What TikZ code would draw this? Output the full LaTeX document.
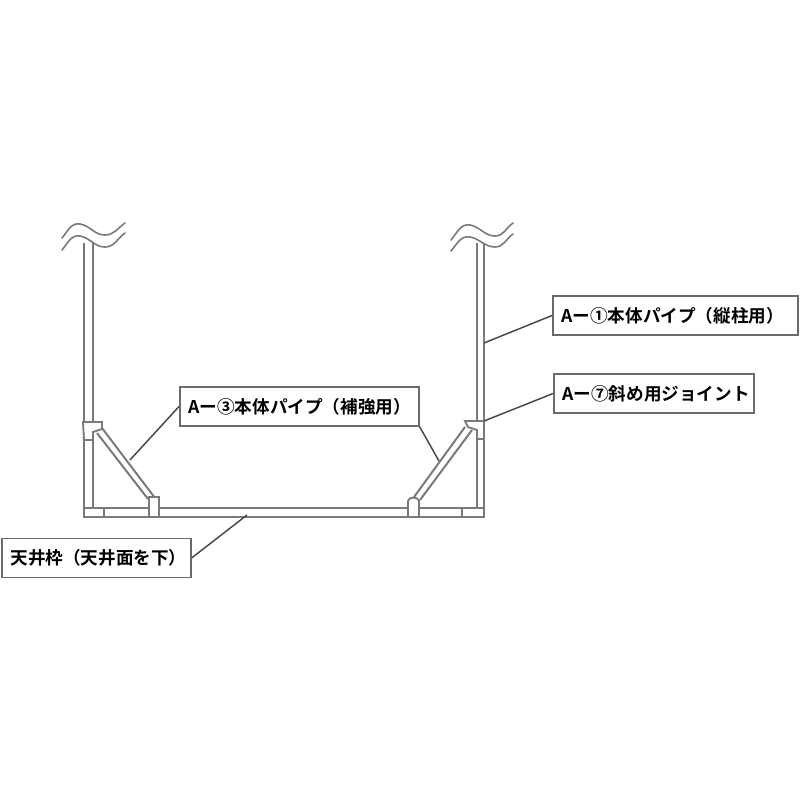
\documentclass[tikz,border=0pt]{standalone}
\usepackage{fontspec}
\setmainfont{Noto Sans CJK JP}[BoldFont={Noto Sans CJK JP Bold}]
\usepackage{tikz}
\definecolor{pipegray}{gray}{0.48}
\definecolor{boxgray}{gray}{0.42}
\definecolor{leadgray}{gray}{0.28}
\tikzset{
	pipe/.style={draw=pipegray,line width=1.5pt},
	joint/.style={draw=pipegray,line width=1.4pt,fill=white},
	wave/.style={draw=pipegray,line width=1.2pt,line cap=round},
	lead/.style={draw=leadgray,line width=1.1pt},
	labelbox/.style={draw=boxgray,line width=1.2pt,fill=white,minimum height=29pt,inner xsep=6.5pt,inner ysep=0pt,font=\bfseries\fontsize{13.2}{15}\selectfont,text=black}
}
\begin{document}
\begin{tikzpicture}[x=0.75pt,y=-0.75pt]
			\useasboundingbox(0,0)rectangle(800,800);
			%left column and right column
			\draw[pipe](84,243)--(84,508);
			\draw[pipe](93,243)--(93,508);
			\draw[pipe](477,243)--(477,508);
			\draw[pipe](484,243)--(484,517);
			%bottom pipe
			\draw[pipe](84,508)--(484,508);
			\draw[pipe](84,517)--(484,517);
			%diagonals
			\draw[pipe](102,428)--(155,498);
			\draw[pipe](97,433)--(148,499);
			\draw[pipe](465,427)--(414,497);
			\draw[pipe](472,430)--(420,500);
			%joints
			\draw[joint](83,422)--(102,422)--(102,429)--(93,432)--(93,440)--(84,440)--cycle;
			\draw[joint](84,508)--(104,508)--(104,517)--(84,517)--cycle;
			\draw[joint](149,497)--(159,497)--(159,517)--(149,517)--cycle;
			\draw[joint](465,421)--(484,421)--(484,439)--(477,439)--(477,430)--(468,427)--cycle;
			\draw[joint](462,508)--(484,508)--(484,517)--(462,517)--cycle;
			\draw[joint](408,501)to[out=80,in=100,looseness=1.1](419,501)--(419,517)--(408,517)--cycle;
			%wave marks
			\draw[wave](62,238)to[out=50,in=170](80,224)to[out=-10,in=180](105,235)to[out=0,in=215](125,223);
			\draw[wave](62,250)to[out=50,in=170](80,236)to[out=-10,in=180](105,247)to[out=0,in=215](125,233);
			\draw[wave](451,240)to[out=50,in=170](470,225)to[out=-10,in=180](495,236)to[out=0,in=215](513,223);
			\draw[wave](451,251)to[out=50,in=170](470,237)to[out=-10,in=180](495,247)to[out=0,in=215](513,234);
			%labels
			\node[labelbox,text width=170.75pt,align=left,anchor=west](mainpipe)at(552,315.5){Aー①本体パイプ（縦柱用）};
			\node[labelbox,text width=137pt,align=left,anchor=west](slantjoint)at(553,393.5){Aー⑦斜め用ジョイント};
			\node[labelbox,text width=166.25pt,align=left,anchor=west](bracepipe)at(179,406.5){Aー③本体パイプ（補強用）};
			\node[labelbox,text width=128.75pt,align=center,anchor=west](ceilframe)at(1,558){天井枠（天井面を下）};
			%leader ends on the pipes
			\coordinate(mainend)at(484,343);
			\coordinate(slantend)at(484,421);
			\coordinate(braceleft)at(130,460);
			\coordinate(braceright)at(439,461);
			\coordinate(frameend)at(247,515);
			\draw[lead](mainpipe.west)--(mainend);
			\draw[lead](slantjoint.west)--(slantend);
			\draw[lead](bracepipe.west)--(braceleft);
			\draw[lead](bracepipe.south east)--(braceright);
			\draw[lead](ceilframe.east)--(frameend);
		\end{tikzpicture}
\end{document}
